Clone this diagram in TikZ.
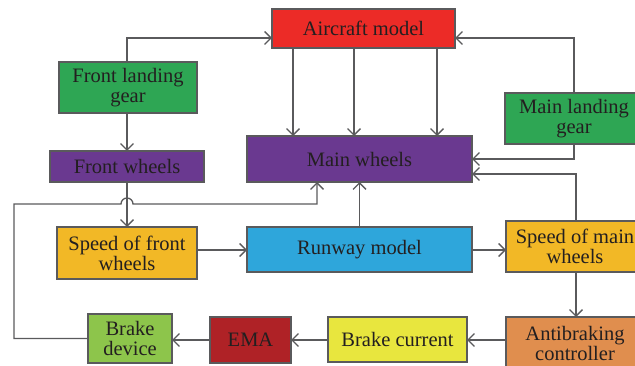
\documentclass[tikz,border=0pt]{standalone}
\usepackage{fontspec}
\setmainfont{Liberation Serif}
\usetikzlibrary{arrows.meta}
\definecolor{linegray}{HTML}{5A5A5C}
\definecolor{txt}{HTML}{231F20}
\definecolor{cAir}{HTML}{EC2B27}
\definecolor{cGear}{HTML}{2EA654}
\definecolor{cWheel}{HTML}{6A3990}
\definecolor{cSpeed}{HTML}{F2B826}
\definecolor{cRun}{HTML}{2EA6DB}
\definecolor{cBrake}{HTML}{8DC54B}
\definecolor{cEma}{HTML}{AF2226}
\definecolor{cCur}{HTML}{E8E63E}
\definecolor{cAnti}{HTML}{E08E4E}
\tikzset{
  blk/.style={draw=linegray, line width=1.2pt, inner sep=0pt, outer sep=0pt,
    text=txt, align=center, font=\fontsize{20.5}{20}\selectfont},
  arr/.style={draw=linegray, line width=1.3pt,
    -{Straight Barb[length=6.5pt,width=13pt]}},
  ln/.style={draw=linegray, line width=1.3pt},
}
\begin{document}
\begin{tikzpicture}[x=1pt,y=-1pt]
\useasboundingbox (0,0) rectangle (635,366);
\clip (0,0) rectangle (635,366);
% blocks
\node[blk, fill=cAir,   minimum width=183pt, minimum height=39pt] (air)  at (363.5,28.5) {Aircraft model};
\node[blk, fill=cGear,  minimum width=138pt, minimum height=51pt] (flg)  at (128,87.5) {Front landing\\gear};
\node[blk, fill=cWheel, minimum width=154pt, minimum height=31pt] (fw)   at (127,166.5) {Front wheels};
\node[blk, fill=cWheel, minimum width=225pt, minimum height=46pt] (mw)   at (359.5,159) {Main wheels};
\node[blk, fill=cGear,  minimum width=138pt, minimum height=51pt] (mlg)  at (574,118.5) {Main landing\\gear};
\node[blk, fill=cSpeed, minimum width=140pt, minimum height=52pt] (sfw)  at (127,253) {Speed of front\\wheels};
\node[blk, fill=cRun,   minimum width=225pt, minimum height=45pt] (rw)   at (359.5,249.5) {Runway model};
\node[blk, fill=cSpeed, minimum width=138pt, minimum height=51pt] (smw)  at (575,246.5) {Speed of main\\wheels};
\node[blk, fill=cBrake, minimum width=84pt,  minimum height=49pt] (bd)   at (130,338.5) {Brake\\device};
\node[blk, fill=cEma,   minimum width=81pt,  minimum height=46pt] (ema)  at (250.5,340) {EMA};
\node[blk, fill=cCur,   minimum width=139pt, minimum height=45pt] (bc)   at (397.5,339.5) {Brake current};
\node[blk, fill=cAnti,  minimum width=138pt, minimum height=52pt] (ab)   at (575,343) {Antibraking\\controller};

% landing gears to the aircraft model
\coordinate (flgup) at (127,38);
\coordinate (mlgup) at (574,38);
\draw[arr] (flg.north -| flgup) -- (flgup) -- (air.west |- flgup);
\draw[arr] (mlg.north -| mlgup) -- (mlgup) -- (air.east |- mlgup);

% aircraft model to main wheels
\foreach \xx in {293,354,437}
  \draw[arr] (air.south -| \xx,0) -- (mw.north -| \xx,0);

% front gear to front wheels
\draw[arr] (flg.south -| 127,0) -- (fw.north -| 127,0);

% main gear and main wheel speed into main wheels
\coordinate (mlgdn) at (574,159);
\draw[arr] (mlg.south -| mlgdn) -- (mlgdn) -- (mw.east |- mlgdn);
\coordinate (smwup) at (576,174);
\draw[arr] (smw.north -| smwup) -- (smwup) -- (mw.east |- smwup);

% feedback from brake device, hopping over the front wheel line
\coordinate (fbl) at (14,204);
\coordinate (fbr) at (317,204);
\draw[arr] (bd.west) -- (bd.west -| fbl) -- (fbl) -- (121,204)
  arc[start angle=180, end angle=0, radius=6pt] -- (fbr) -- (mw.south -| fbr);

% front wheels to their speed
\draw[arr] (fw.south -| 127,0) -- (sfw.north -| 127,0);

% runway model
\draw[arr] (rw.north -| 359.5,0) -- (mw.south -| 359.5,0);
\coordinate (rwy) at (0,250);
\draw[arr] (sfw.east |- rwy) -- (rw.west |- rwy);
\draw[arr] (rw.east |- rwy) -- (smw.west |- rwy);

% brake loop
\draw[arr] (smw.south -| 576,0) -- (ab.north -| 576,0);
\coordinate (bry) at (0,340);
\draw[arr] (ab.west |- bry) -- (bc.east |- bry);
\draw[arr] (bc.west |- bry) -- (ema.east |- bry);
\draw[arr] (ema.west |- bry) -- (bd.east |- bry);
\end{tikzpicture}
\end{document}
